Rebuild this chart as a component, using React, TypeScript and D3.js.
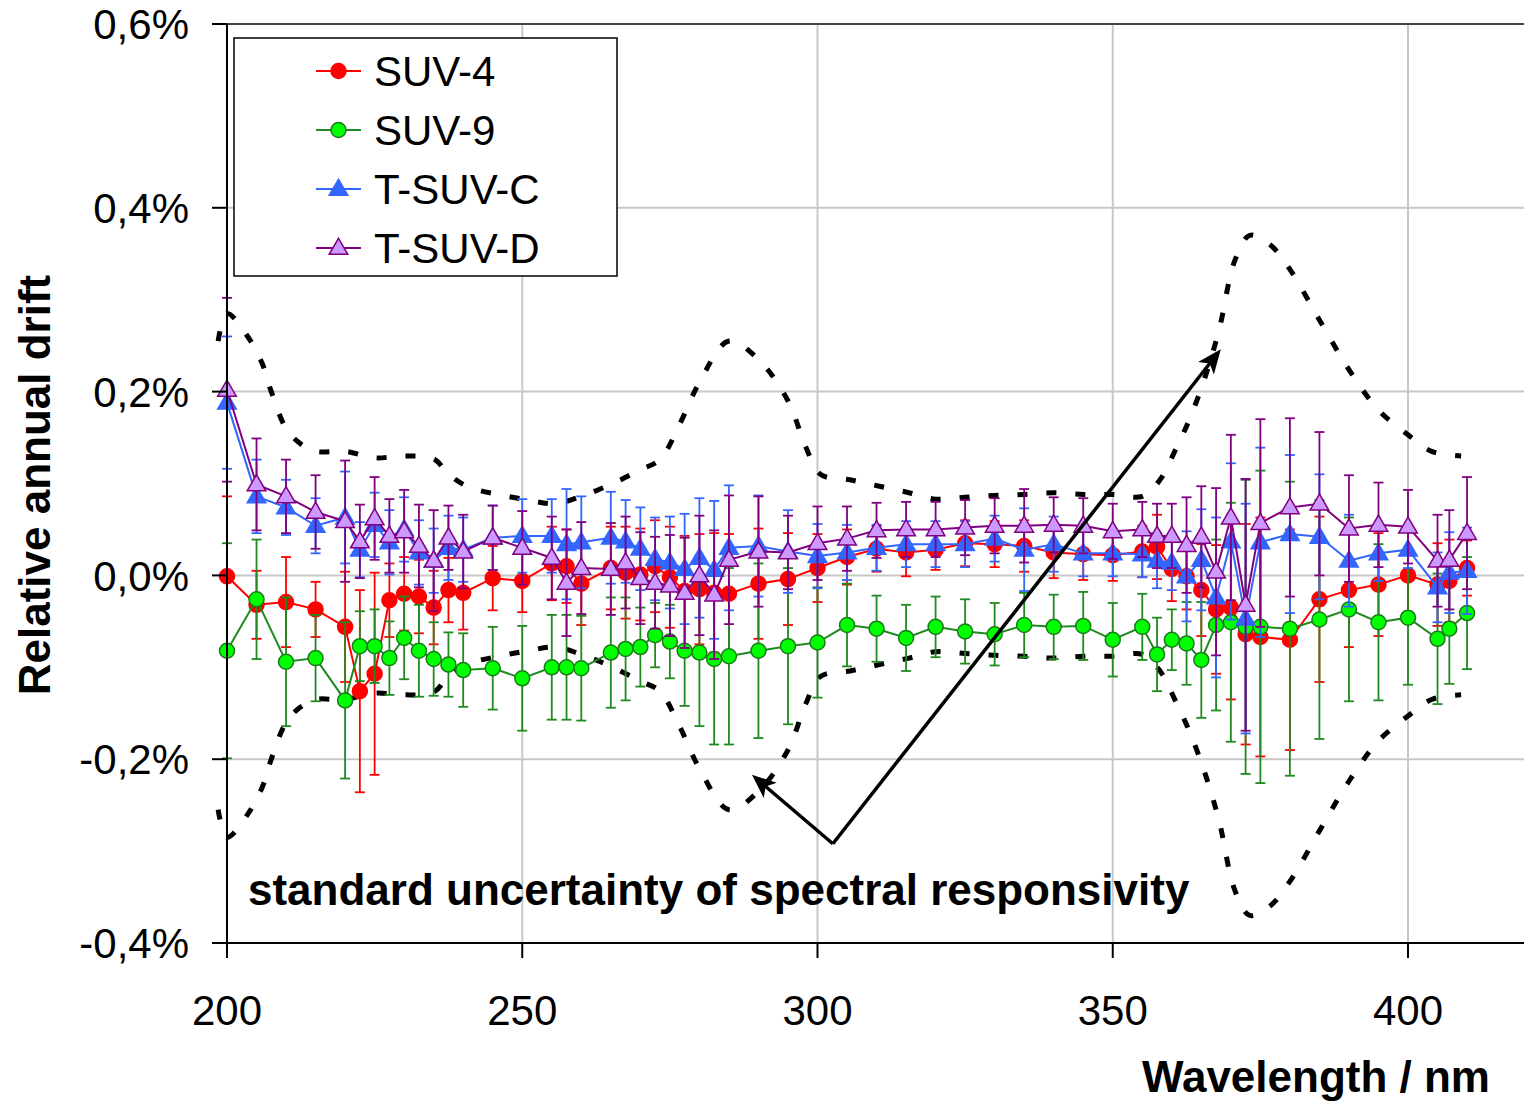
import React from "react";
import * as d3 from "d3";

const wavelengths = [200,205,210,215,220,222.5,225,227.5,230,232.5,235,237.5,240,245,250,255,257.5,260,265,267.5,270,272.5,275,277.5,280,282.5,285,290,295,300,305,310,315,320,325,330,335,340,345,350,355,357.5,360,362.5,365,367.5,370,372.5,375,380,385,390,395,400,405,407,410];

const suv4 = [-0.001,-0.032,-0.029,-0.037,-0.056,-0.126,-0.107,-0.027,-0.020,-0.023,-0.035,-0.016,-0.019,-0.003,-0.006,0.013,0.010,-0.009,0.008,0.003,0.001,0.010,-0.002,-0.017,-0.015,-0.019,-0.020,-0.009,-0.004,0.008,0.020,0.029,0.025,0.028,0.035,0.034,0.032,0.025,0.023,0.022,0.026,0.031,0.007,-0.001,-0.016,-0.037,-0.035,-0.064,-0.067,-0.070,-0.026,-0.016,-0.010,0.000,-0.010,-0.006,0.008];
const suv4Err = [0.087,0.037,0.049,0.03,0.06,0.11,0.11,0.04,0.04,0.04,0.04,0.035,0.04,0.035,0.034,0.04,0.04,0.045,0.045,0.05,0.05,0.05,0.055,0.06,0.06,0.065,0.065,0.06,0.05,0.037,0.03,0.025,0.026,0.022,0.025,0.025,0.028,0.028,0.028,0.028,0.028,0.035,0.035,0.036,0.05,0.07,0.1,0.12,0.13,0.12,0.09,0.062,0.056,0.05,0.045,0.045,0.03];

const suv9 = [-0.082,-0.026,-0.094,-0.090,-0.136,-0.077,-0.077,-0.090,-0.068,-0.082,-0.091,-0.097,-0.103,-0.101,-0.112,-0.100,-0.100,-0.101,-0.084,-0.080,-0.078,-0.065,-0.072,-0.082,-0.084,-0.091,-0.088,-0.082,-0.077,-0.073,-0.054,-0.058,-0.068,-0.056,-0.061,-0.064,-0.054,-0.056,-0.055,-0.070,-0.056,-0.086,-0.070,-0.074,-0.092,-0.054,-0.051,-0.056,-0.056,-0.058,-0.048,-0.037,-0.051,-0.046,-0.069,-0.058,-0.041];
const suv9Err = [0.117,0.065,0.07,0.047,0.085,0.038,0.04,0.04,0.045,0.05,0.04,0.035,0.04,0.045,0.057,0.057,0.057,0.057,0.06,0.056,0.043,0.035,0.04,0.06,0.08,0.093,0.096,0.095,0.085,0.06,0.045,0.036,0.036,0.033,0.035,0.034,0.035,0.035,0.037,0.04,0.036,0.04,0.033,0.045,0.063,0.093,0.13,0.16,0.17,0.16,0.13,0.10,0.085,0.073,0.071,0.06,0.061];

const tsuvC = [0.188,0.086,0.074,0.054,0.063,0.028,0.055,0.036,0.050,0.025,0.016,0.030,0.028,0.041,0.043,0.043,0.034,0.036,0.041,0.037,0.029,0.018,0.014,0.007,0.019,0.006,0.030,0.032,0.026,0.021,0.025,0.030,0.034,0.034,0.034,0.040,0.028,0.034,0.024,0.024,0.023,0.016,0.014,-0.001,0.017,-0.024,0.037,-0.047,0.036,0.045,0.042,0.016,0.024,0.028,-0.013,0.003,0.005];
const tsuvCErr = [0.072,0.04,0.03,0.03,0.05,0.03,0.035,0.035,0.035,0.035,0.035,0.035,0.035,0.035,0.04,0.04,0.06,0.05,0.05,0.045,0.045,0.045,0.05,0.06,0.065,0.075,0.068,0.055,0.045,0.035,0.03,0.025,0.025,0.025,0.025,0.025,0.045,0.03,0.025,0.025,0.025,0.03,0.03,0.049,0.055,0.087,0.085,0.125,0.103,0.086,0.068,0.05,0.03,0.02,0.038,0.044,0.047];

const tsuvD = [0.202,0.099,0.086,0.069,0.059,0.037,0.062,0.043,0.048,0.032,0.016,0.041,0.026,0.041,0.030,0.019,-0.008,0.008,0.007,0.014,-0.003,-0.008,-0.011,-0.019,0.000,-0.021,0.017,0.026,0.025,0.035,0.040,0.049,0.050,0.050,0.052,0.054,0.054,0.055,0.054,0.048,0.050,0.043,0.043,0.033,0.042,0.004,0.063,-0.032,0.057,0.074,0.078,0.051,0.055,0.053,0.016,0.017,0.046];
const tsuvDErr = [0.1,0.05,0.04,0.04,0.066,0.04,0.045,0.04,0.045,0.045,0.055,0.035,0.04,0.035,0.04,0.045,0.058,0.05,0.05,0.05,0.05,0.05,0.055,0.06,0.065,0.07,0.07,0.06,0.04,0.04,0.035,0.03,0.03,0.03,0.03,0.03,0.04,0.03,0.03,0.03,0.03,0.035,0.035,0.052,0.055,0.091,0.09,0.137,0.113,0.097,0.078,0.058,0.046,0.04,0.05,0.054,0.061];

const uncWavelengths = [198.5,200,203.5,206,207.5,210,212.5,215,220,225,230,235,237.5,241,246,251,255.5,260,265,270,273.3,276.7,280,285,290,295,298,300.5,305.5,310.5,315.5,320,325,330,335,340,345,350,355,358,360.5,363,365.5,368,370.7,373.2,376.6,380,385,390,395,400,404,409];
const uncValues = [0.255,0.285,0.26,0.23,0.2,0.16,0.143,0.135,0.135,0.128,0.13,0.127,0.11,0.096,0.088,0.082,0.078,0.086,0.099,0.115,0.126,0.165,0.21,0.255,0.235,0.19,0.14,0.11,0.104,0.097,0.09,0.083,0.085,0.087,0.088,0.09,0.088,0.088,0.086,0.104,0.135,0.17,0.213,0.267,0.343,0.37,0.36,0.333,0.278,0.224,0.18,0.153,0.135,0.13];

const xTicks = [200, 250, 300, 350, 400];
const yTicks = [-0.4, -0.2, 0, 0.2, 0.4, 0.6];

const seriesNames = ["SUV-4", "SUV-9", "T-SUV-C", "T-SUV-D"];
const arrowBase = [302.6, -0.292];
const arrowTips = [[368.3, 0.246], [288.9, -0.217]];
const annotationText = "standard uncertainty of spectral responsivity";

const FONT = "'Liberation Sans', Arial, Helvetica, sans-serif";

const fmtY = (t: number) => (t < 0 ? "-" : "") + Math.abs(t).toFixed(1).replace(".", ",") + "%";

export default function App() {
  const x = d3.scaleLinear().domain([200, 420]).range([227, 227 + 220 * 5.905]);
  const y = d3.scaleLinear().domain([-0.4, 0.6]).range([943, 24]);

  const series = [
    { name: seriesNames[0], vals: suv4, err: suv4Err, line: "#ff0000", fill: "#ff0000", stroke: "#ff0000", shape: "circle" },
    { name: seriesNames[1], vals: suv9, err: suv9Err, line: "#1f8a1f", fill: "#00ff00", stroke: "#1a7a1a", shape: "circle" },
    { name: seriesNames[2], vals: tsuvC, err: tsuvCErr, line: "#3366ff", fill: "#3366ff", stroke: "#3366ff", shape: "triangle" },
    { name: seriesNames[3], vals: tsuvD, err: tsuvDErr, line: "#800080", fill: "#cc99ff", stroke: "#800080", shape: "triangle" },
  ];

  const tri = d3.symbol().type(d3.symbolTriangle).size(150)() as string;

  const lineGen = d3.line<[number, number]>().x(d => x(d[0])).y(d => y(d[1]));
  const uncUpper = d3.line<number>().x((_, i) => x(uncWavelengths[i])).y(d => y(d)).curve(d3.curveCatmullRom.alpha(0.5));
  const uncLower = d3.line<number>().x((_, i) => x(uncWavelengths[i])).y(d => y(-d)).curve(d3.curveCatmullRom.alpha(0.5));

  const marker = (s: any, cx: number, cy: number, key: any) =>
    s.shape === "circle" ? (
      <circle key={key} cx={cx} cy={cy} r={7.5} fill={s.fill} stroke={s.stroke} strokeWidth={1.5} />
    ) : (
      <path key={key} d={tri} transform={`translate(${cx},${cy + 1})`} fill={s.fill} stroke={s.stroke} strokeWidth={1.5} />
    );

  const arrowHead = (bx: number, by: number, tx: number, ty: number, key: any) => {
    const ang = Math.atan2(ty - by, tx - bx);
    const len = 24, half = 10;
    const p1 = [tx - len * Math.cos(ang) + half * Math.sin(ang), ty - len * Math.sin(ang) - half * Math.cos(ang)];
    const p2 = [tx - len * Math.cos(ang) - half * Math.sin(ang), ty - len * Math.sin(ang) + half * Math.cos(ang)];
    const pm = [tx - len * 0.75 * Math.cos(ang), ty - len * 0.75 * Math.sin(ang)];
    return (
      <g key={key}>
        <line x1={bx} y1={by} x2={pm[0]} y2={pm[1]} stroke="#000" strokeWidth={3.5} />
        <path d={`M${tx},${ty}L${p1[0]},${p1[1]}L${pm[0]},${pm[1]}L${p2[0]},${p2[1]}Z`} fill="#000" />
      </g>
    );
  };

  return (
    <svg width={1524} height={1101} style={{ position: "absolute", left: 0, top: 0, background: "#fff" }} fontFamily={FONT}>
      <rect x={0} y={0} width={1524} height={1101} fill="#fff" />
      {/* grid */}
      {xTicks.filter(t => t !== 200).map(t => (
        <line key={"gx" + t} x1={x(t)} x2={x(t)} y1={y(0.6)} y2={y(-0.4)} stroke="#c8c8c8" strokeWidth={2} />
      ))}
      {yTicks.filter(t => t !== -0.4 && t !== 0.6).map(t => (
        <line key={"gy" + t} x1={x(200)} x2={1524} y1={y(t)} y2={y(t)} stroke="#c8c8c8" strokeWidth={2} />
      ))}
      <line x1={x(200)} x2={1524} y1={y(0.6)} y2={y(0.6)} stroke="#444" strokeWidth={2} />

      {/* uncertainty curves */}
      <path d={uncUpper(uncValues) as string} fill="none" stroke="#000" strokeWidth={5} strokeDasharray="10 19" />
      <path d={uncLower(uncValues) as string} fill="none" stroke="#000" strokeWidth={5} strokeDasharray="10 19" />

      {/* series */}
      {series.map(s => (
        <g key={s.name}>
          {wavelengths.map((w, i) => {
            const cx = x(w);
            const y1 = y(s.vals[i] + s.err[i]);
            const y2 = y(s.vals[i] - s.err[i]);
            return (
              <g key={i} stroke={s.line} strokeWidth={1.8}>
                <line x1={cx} x2={cx} y1={y1} y2={y2} />
                <line x1={cx - 5} x2={cx + 5} y1={y1} y2={y1} />
                <line x1={cx - 5} x2={cx + 5} y1={y2} y2={y2} />
              </g>
            );
          })}
          <path d={lineGen(wavelengths.map((w, i) => [w, s.vals[i]] as [number, number])) as string} fill="none" stroke={s.line} strokeWidth={2} />
          {wavelengths.map((w, i) => marker(s, x(w), y(s.vals[i]), i))}
        </g>
      ))}

      {/* axes */}
      <line x1={x(200)} x2={x(200)} y1={y(0.6)} y2={958} stroke="#000" strokeWidth={2} />
      <line x1={212} x2={1524} y1={y(-0.4)} y2={y(-0.4)} stroke="#000" strokeWidth={2} />
      {yTicks.map(t => (
        <g key={"yt" + t}>
          <line x1={212} x2={x(200)} y1={y(t)} y2={y(t)} stroke="#000" strokeWidth={2} />
          <text x={189} y={y(t)} dy="0.36em" textAnchor="end" fontSize={42} fill="#000">{fmtY(t)}</text>
        </g>
      ))}
      {xTicks.map(t => (
        <g key={"xt" + t}>
          <line x1={x(t)} x2={x(t)} y1={y(-0.4)} y2={958} stroke="#000" strokeWidth={2} />
          <text x={x(t)} y={1025} textAnchor="middle" fontSize={42} fill="#000">{t}</text>
        </g>
      ))}

      {/* axis titles */}
      <text transform={`translate(50,485) rotate(-90)`} textAnchor="middle" fontSize={44} fontWeight="bold" fill="#000">Relative annual drift</text>
      <text x={1490} y={1092} textAnchor="end" fontSize={44} fontWeight="bold" fill="#000">Wavelength / nm</text>

      {/* arrows */}
      {arrowTips.map((t, i) => arrowHead(x(arrowBase[0]), y(arrowBase[1]), x(t[0]), y(t[1]), i))}

      {/* annotation */}
      <text x={248} y={905} fontSize={44} fontWeight="bold" fill="#000">{annotationText}</text>

      {/* legend */}
      <rect x={234} y={38} width={383} height={238} fill="#fff" stroke="#000" strokeWidth={1.5} />
      {series.map((s, i) => {
        const ly = 71 + i * 59;
        return (
          <g key={"lg" + i}>
            <line x1={316} x2={361} y1={ly} y2={ly} stroke={s.line} strokeWidth={2} />
            {marker(s, 338.5, ly, "m")}
            <text x={374} y={ly} dy="0.36em" fontSize={42} fill="#000">{s.name}</text>
          </g>
        );
      })}
    </svg>
  );
}
